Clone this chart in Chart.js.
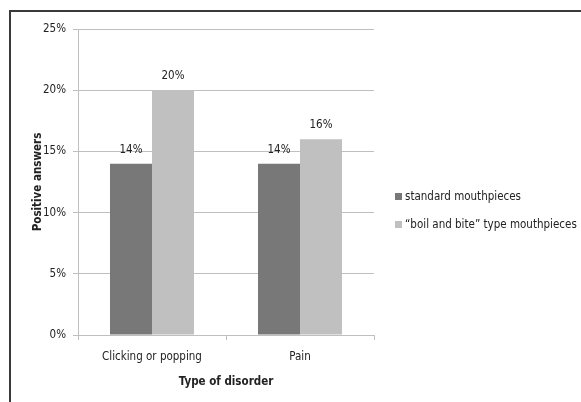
<!DOCTYPE html>
<html>
<head>
<meta charset="utf-8">
<script src="https://cdn.jsdelivr.net/npm/chart.js@4/dist/chart.umd.min.js"></script>
<style>
  html, body { margin: 0; padding: 0; background: #fff; }
  #wrap { position: relative; width: 581px; height: 402px; }
</style>
</head>
<body>
<div id="wrap"><canvas id="c" width="581" height="402"></canvas></div>
<script>
const categories = ['Clicking or popping', 'Pain'];
const standardValues = [14, 14];
const boilBiteValues = [20, 16];
const seriesNames = ['standard mouthpieces', '\u201Cboil and bite\u201D type mouthpieces'];
const yTicks = [0, 5, 10, 15, 20, 25];

const FONT = "'DejaVu Sans Condensed', 'Liberation Sans', Arial, sans-serif";
const FS = 11.5;
const GRID = '#bfbfbf';
const TEXT = '#222';

// outer frame: top and left rules
const framePlugin = {
  id: 'frame',
  beforeDraw(chart) {
    const ctx = chart.ctx;
    ctx.save();
    ctx.fillStyle = '#fff';
    ctx.fillRect(0, 0, chart.width, chart.height);
    ctx.strokeStyle = '#3a3a3a';
    ctx.lineWidth = 2;
    ctx.beginPath();
    ctx.moveTo(10, chart.height);
    ctx.lineTo(10, 11);
    ctx.lineTo(chart.width, 11);
    ctx.stroke();
    ctx.restore();
  }
};

// value labels above the bars
const valueLabels = {
  id: 'valueLabels',
  afterDatasetsDraw(chart) {
    const ctx = chart.ctx;
    ctx.save();
    ctx.font = FS + 'px ' + FONT;
    ctx.fillStyle = TEXT;
    ctx.textAlign = 'center';
    ctx.textBaseline = 'bottom';
    chart.data.datasets.forEach((ds, i) => {
      chart.getDatasetMeta(i).data.forEach((bar, j) => {
        ctx.fillText(ds.data[j] + '%', bar.x, bar.y - 8);
      });
    });
    ctx.restore();
  }
};

// legend on the right, built from the datasets
const sideLegend = {
  id: 'sideLegend',
  afterDraw(chart) {
    const ctx = chart.ctx;
    ctx.save();
    ctx.font = FS + 'px ' + FONT;
    ctx.textAlign = 'left';
    ctx.textBaseline = 'middle';
    chart.data.datasets.forEach((ds, i) => {
      const y = 197 + i * 28;
      ctx.fillStyle = ds.backgroundColor;
      ctx.fillRect(395, y - 4, 7, 7);
      ctx.fillStyle = TEXT;
      ctx.fillText(ds.label, 405, y);
    });
    ctx.restore();
  }
};

new Chart(document.getElementById('c'), {
  type: 'bar',
  data: {
    labels: categories,
    datasets: [
      { label: seriesNames[0], data: standardValues, backgroundColor: '#787878' },
      { label: seriesNames[1], data: boilBiteValues, backgroundColor: '#c0c0c0' }
    ]
  },
  options: {
    responsive: false,
    animation: false,
    devicePixelRatio: 1,
    layout: { padding: { top: 29, right: 207, left: 0, bottom: 13 } },
    datasets: { bar: { categoryPercentage: 0.5676, barPercentage: 1 } },
    plugins: { legend: { display: false }, tooltip: { enabled: false } },
    scales: {
      x: {
        grid: { display: true, drawOnChartArea: false, offset: true, color: GRID, tickLength: 5, tickColor: GRID },
        border: { color: GRID },
        ticks: { color: TEXT, font: { family: FONT, size: FS }, padding: 10, maxRotation: 0 },
        title: { display: true, text: 'Type of disorder', color: TEXT, font: { family: FONT, size: FS, weight: 'bold' }, padding: { top: 6, bottom: 0 } },
        afterFit(s) { s.height = 54; }
      },
      y: {
        min: 0, max: 25,
        afterBuildTicks(s) { s.ticks = yTicks.map(v => ({ value: v })); },
        grid: { color: GRID, tickLength: 5, tickColor: GRID },
        border: { color: GRID },
        ticks: { color: TEXT, font: { family: FONT, size: FS }, padding: 7, callback: v => v + '%' },
        title: { display: true, text: 'Positive answers', color: TEXT, font: { family: FONT, size: FS, weight: 'bold' }, padding: { top: 31, bottom: 0 } },
        afterFit(s) { s.width = 78; }
      }
    }
  },
  plugins: [framePlugin, valueLabels, sideLegend]
});
</script>
</body>
</html>
